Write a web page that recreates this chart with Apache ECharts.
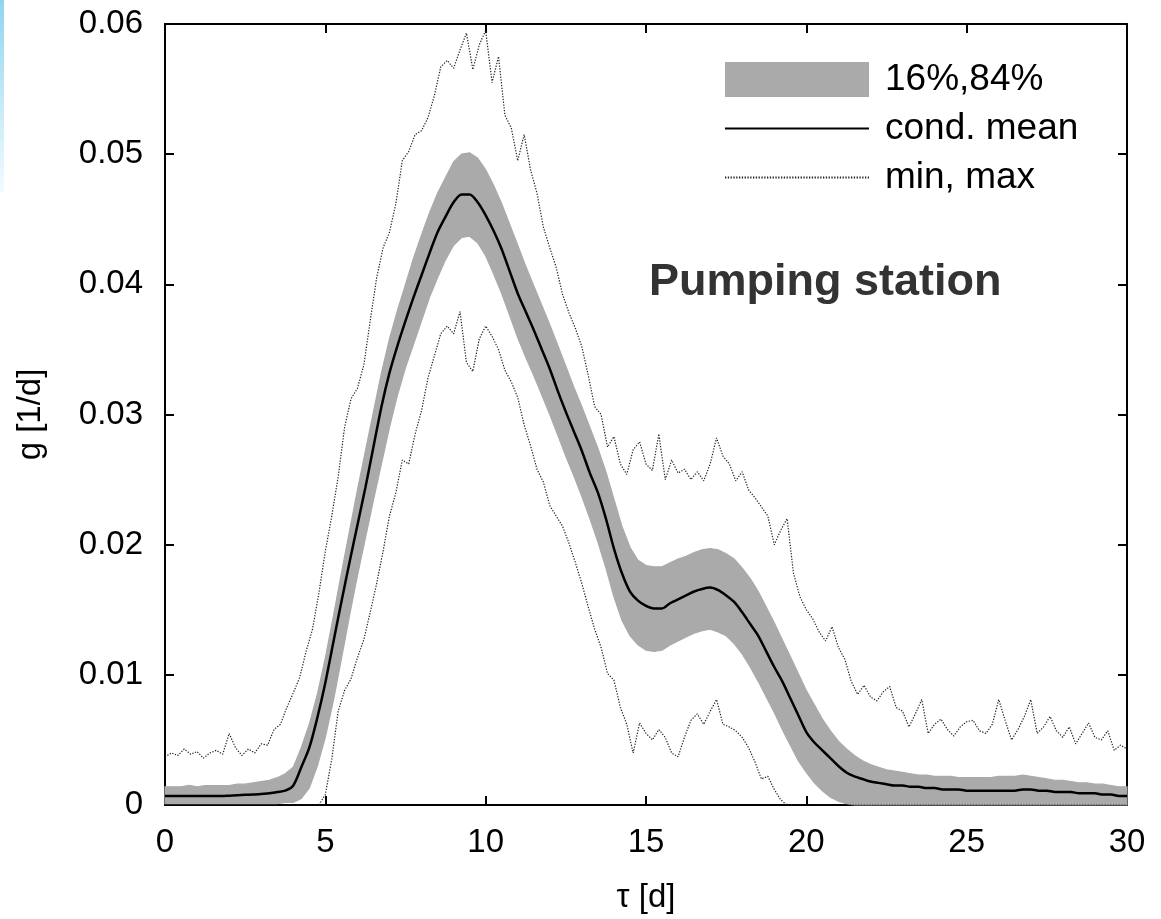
<!DOCTYPE html>
<html>
<head>
<meta charset="utf-8">
<script src="https://cdn.jsdelivr.net/npm/echarts@6/dist/echarts.min.js"></script>
<style>
html,body{margin:0;padding:0;background:#fff;}
#chart{width:1161px;height:919px;}
</style>
</head>
<body>
<div id="chart"></div>
<script>
// ---------------- DATA ----------------
// sampling grids (days)
const bandStep = 0.25;   // mean and 16%/84% band
const extremeStep = 0.2; // min / max envelopes

// conditional mean, t = 0, 0.25, ..., 30
const meanValues = [
  0.0007,0.0007,0.0007,0.0007,
  0.0007,0.0007,0.0007,0.0007,
  0.00072,0.00075,0.00078,0.0008,
  0.00085,0.0009,0.001,0.0011,
  0.0015,0.0029,0.0044,0.0067,
  0.0094,0.0125,0.0156,0.0186,
  0.0215,0.0244,0.0275,0.0306,
  0.0332,0.0353,0.0372,0.0390,
  0.0407,0.0424,0.0440,0.0452,
  0.0463,0.0469,0.0469,0.0463,
  0.0453,0.0441,0.0427,0.0410,
  0.0393,0.0379,0.0365,0.0350,
  0.0335,0.0318,0.0302,0.0287,
  0.0272,0.0255,0.0240,0.0220,
  0.0197,0.0178,0.0164,0.0157,
  0.0153,0.0151,0.0151,0.0155,
  0.0158,0.0161,0.0164,0.0166,
  0.0167,0.0165,0.0161,0.0156,
  0.0148,0.0139,0.0130,0.0118,
  0.0106,0.0095,0.0082,0.0069,
  0.0056,0.0048,0.0042,0.0036,
  0.0030,0.0025,0.0022,0.0020,
  0.0018,0.0017,0.0016,0.0015,
  0.0015,0.0014,0.0014,0.0013,
  0.0013,0.0012,0.0012,0.0012,
  0.0011,0.0011,0.0011,0.0011,
  0.0011,0.0011,0.0011,0.0012,
  0.0012,0.0011,0.0011,0.0010,
  0.0010,0.0010,0.0009,0.0009,
  0.0009,0.0008,0.0008,0.0007,
  0.0007
];

// 84% quantile, t = 0, 0.25, ..., 30
const upperValues = [
  0.0014,0.0014,0.0014,0.0015,
  0.0014,0.0015,0.0015,0.0015,
  0.0015,0.0016,0.0016,0.0017,
  0.0018,0.0019,0.0021,0.0024,
  0.0029,0.0044,0.0062,0.0085,
  0.0113,0.0145,0.0178,0.0210,
  0.0242,0.0272,0.0302,0.0332,
  0.0358,0.0380,0.0400,0.0420,
  0.0438,0.0455,0.0470,0.0482,
  0.0494,0.0500,0.0501,0.0497,
  0.0488,0.0476,0.0462,0.0446,
  0.0430,0.0414,0.0399,0.0384,
  0.0369,0.0353,0.0337,0.0321,
  0.0306,0.0290,0.0274,0.0256,
  0.0235,0.0214,0.0198,0.0188,
  0.0184,0.0183,0.0183,0.0186,
  0.0189,0.0191,0.0194,0.0196,
  0.0197,0.0196,0.0193,0.0189,
  0.0182,0.0174,0.0164,0.0152,
  0.0140,0.0127,0.0114,0.0101,
  0.0088,0.0077,0.0066,0.0057,
  0.0049,0.0043,0.0038,0.0034,
  0.0031,0.0029,0.0027,0.0026,
  0.0025,0.0024,0.0023,0.0023,
  0.0022,0.0022,0.0022,0.0021,
  0.0021,0.0021,0.0021,0.0021,
  0.0022,0.0022,0.0022,0.0023,
  0.0022,0.0021,0.0020,0.0019,
  0.0019,0.0018,0.0017,0.0017,
  0.0016,0.0016,0.0015,0.0014,
  0.0014
];

// 16% quantile, t = 0, 0.25, ..., 30
const lowerValues = [
  0.0001,0.0001,0.0001,0.0001,
  0.0001,0.0001,0.0001,0.0001,
  0.0001,0.0001,0.0001,0.0001,
  0.0001,0.0001,0.0001,0.0002,
  0.0002,0.0005,0.0013,0.0030,
  0.0052,0.0080,0.0112,0.0145,
  0.0176,0.0205,0.0234,0.0262,
  0.0290,0.0315,0.0336,0.0354,
  0.0372,0.0390,0.0405,0.0419,
  0.0430,0.0436,0.0437,0.0432,
  0.0422,0.0408,0.0393,0.0376,
  0.0359,0.0344,0.0330,0.0315,
  0.0300,0.0284,0.0268,0.0253,
  0.0237,0.0220,0.0202,0.0182,
  0.0160,0.0142,0.0130,0.0123,
  0.0119,0.0118,0.0119,0.0123,
  0.0126,0.0129,0.0132,0.0134,
  0.0135,0.0133,0.0130,0.0124,
  0.0116,0.0106,0.0095,0.0083,
  0.0071,0.0058,0.0046,0.0034,
  0.0025,0.0017,0.0011,0.0006,
  0.0003,0.0001,0,0,
  0,0,0,0,
  0,0,0,0,
  0,0,0,0,
  0,0,0,0,
  0,0,0,0,
  0,0,0,0,
  0,0,0,0,
  0,0,0,0,
  0
];

// maximum, t = 0, 0.2, ..., 30
const maxValues = [
  0.0037,0.0040,0.0038,0.0043,0.0039,0.0041,0.0036,0.0040,0.0042,0.0039,
  0.0055,0.0044,0.0038,0.0043,0.0040,0.0047,0.0046,0.0058,0.0062,0.0075,
  0.0086,0.0098,0.0118,0.0135,0.0163,0.0195,0.0222,0.0252,0.0290,0.0312,
  0.0320,0.0338,0.0372,0.0405,0.0428,0.0440,0.0462,0.0495,0.0502,0.0515,
  0.0518,0.0528,0.0545,0.0567,0.0572,0.0566,0.0580,0.0593,0.0565,0.0584,
  0.0595,0.0555,0.0575,0.0530,0.0520,0.0495,0.0515,0.0488,0.0470,0.0444,
  0.0428,0.0413,0.0392,0.0378,0.0366,0.0352,0.0330,0.0306,0.0300,0.0275,
  0.0283,0.0262,0.0254,0.0273,0.0279,0.0262,0.0257,0.0285,0.0250,0.0265,
  0.0255,0.0258,0.0250,0.0256,0.0249,0.0262,0.0282,0.0268,0.0262,0.0249,
  0.0256,0.0242,0.0236,0.0229,0.0222,0.0200,0.0211,0.0220,0.0178,0.0160,
  0.0150,0.0143,0.0133,0.0126,0.0137,0.0121,0.0112,0.0095,0.0085,0.0092,
  0.0083,0.0080,0.0087,0.0091,0.0075,0.0072,0.0060,0.0070,0.0081,0.0055,
  0.0062,0.0066,0.0058,0.0053,0.0060,0.0064,0.0065,0.0057,0.0055,0.0062,
  0.0081,0.0065,0.0050,0.0058,0.0068,0.0081,0.0055,0.0060,0.0068,0.0057,
  0.0052,0.0060,0.0047,0.0055,0.0063,0.0052,0.0050,0.0057,0.0042,0.0046,
  0.0043
];

// minimum, t = 0, 0.2, ..., 30
const minValues = [
  0,0,0,0,0,0,0,0,0,0,
  0,0,0,0,0,0,0,0,0,0,
  0,0,0,0,0,0.0008,0.0035,0.0072,0.0088,0.0097,
  0.0113,0.0127,0.0148,0.0170,0.0195,0.0222,0.0240,0.0265,0.0262,0.0285,
  0.0303,0.0328,0.0345,0.0362,0.0368,0.0362,0.0379,0.0340,0.0333,0.0358,
  0.0368,0.0360,0.0350,0.0334,0.0325,0.0313,0.0292,0.0276,0.0258,0.0248,
  0.0230,0.0222,0.0214,0.0201,0.0186,0.0170,0.0152,0.0135,0.0121,0.0101,
  0.0096,0.0075,0.0062,0.0040,0.0063,0.0055,0.0050,0.0058,0.0052,0.0040,
  0.0037,0.0052,0.0065,0.0070,0.0062,0.0072,0.0081,0.0062,0.0060,0.0057,
  0.0052,0.0044,0.0033,0.0020,0.0022,0.0012,0.0004,0,0,0,
  0,0,0,0,0,0,0,0,0,0,
  0,0,0,0,0,0,0,0,0,0,
  0,0,0,0,0,0,0,0,0,0,
  0,0,0,0,0,0,0,0,0,0,
  0,0,0,0,0,0,0,0,0,0,
  0
];

const xTicks = {min: 0, max: 30, interval: 5};
const yTicks = {min: 0, max: 0.06, interval: 0.01};
const legendNames = ['16%,84%', 'cond. mean', 'min, max'];
const xName = 'τ [d]';
const yName = 'g [1/d]';
const annotation = 'Pumping station';

// ---------------- BUILD ----------------
const tAt = (i, step) => Math.round(i * step * 1000) / 1000;
const pairs = (vals, step) => vals.map((v, i) => [tAt(i, step), v]);
const bandRows = upperValues.map((u, i) => [tAt(i, bandStep), lowerValues[i], u]);

const FONT = "'Liberation Sans', Arial, Helvetica, sans-serif";
const BAND_COLOR = '#aaaaaa';
const chart = echarts.init(document.getElementById('chart'), null, {renderer: 'canvas'});

const frameAxis = {
  axisLine: {show: true, onZero: false, lineStyle: {color: '#000', width: 2}},
  axisTick: {show: true, inside: true, length: 9, lineStyle: {color: '#000', width: 2}},
  splitLine: {show: false}
};

function renderBand(params, api) {
  if (params.dataIndex !== 0) return null;
  const pts = [];
  for (let i = 0; i < bandRows.length; i++) pts.push(api.coord([bandRows[i][0], bandRows[i][2]]));
  for (let i = bandRows.length - 1; i >= 0; i--) pts.push(api.coord([bandRows[i][0], bandRows[i][1]]));
  return {
    type: 'polygon',
    shape: {points: pts},
    style: {fill: BAND_COLOR, stroke: BAND_COLOR, lineWidth: 1.2}
  };
}

chart.setOption({
  animation: false,
  backgroundColor: '#fff',
  textStyle: {fontFamily: FONT},
  title: {
    text: annotation, left: 644, top: 255,
    textStyle: {fontFamily: FONT, fontSize: 45, fontWeight: 'bold', color: '#333'}
  },
  legend: {
    orient: 'vertical', left: 724, top: 61, padding: 0,
    itemWidth: 144, itemHeight: 35, itemGap: 12,
    selectedMode: false,
    textStyle: {fontFamily: FONT, fontSize: 37, lineHeight: 35, color: '#000', padding: [0, 0, 0, 11]},
    data: [
      {name: legendNames[0], icon: 'rect', itemStyle: {color: BAND_COLOR, opacity: 1}},
      {name: legendNames[1], itemStyle: {opacity: 0}},
      {name: legendNames[2], itemStyle: {opacity: 0}}
    ]
  },
  grid: {left: 165, right: 34, top: 24, bottom: 114, containLabel: false},
  xAxis: [
    Object.assign({
      type: 'value', position: 'bottom', min: xTicks.min, max: xTicks.max, interval: xTicks.interval,
      name: xName, nameLocation: 'middle', nameGap: 76,
      nameTextStyle: {fontFamily: FONT, fontSize: 33, color: '#000'},
      axisLabel: {fontFamily: FONT, fontSize: 33, color: '#000', margin: 21}
    }, frameAxis),
    Object.assign({
      type: 'value', position: 'top', min: xTicks.min, max: xTicks.max, interval: xTicks.interval,
      axisLabel: {show: false}
    }, frameAxis)
  ],
  yAxis: [
    Object.assign({
      type: 'value', position: 'left', min: yTicks.min, max: yTicks.max, interval: yTicks.interval,
      name: yName, nameLocation: 'middle', nameGap: 118, nameRotate: 90,
      nameTextStyle: {fontFamily: FONT, fontSize: 33, color: '#000'},
      axisLabel: {fontFamily: FONT, fontSize: 33, color: '#000', margin: 22}
    }, frameAxis),
    Object.assign({
      type: 'value', position: 'right', min: yTicks.min, max: yTicks.max, interval: yTicks.interval,
      axisLabel: {show: false}
    }, frameAxis)
  ],
  graphic: [{
    type: 'rect', left: 0, top: 0, z: -1,
    shape: {width: 4, height: 192},
    style: {fill: new echarts.graphic.LinearGradient(0, 0, 0, 1, [
      {offset: 0, color: '#8fd5f0'}, {offset: 1, color: '#f2fbfe'}
    ])}
  }],
  series: [
    {
      name: legendNames[0], type: 'custom', data: bandRows,
      encode: {x: 0, y: [1, 2]},
      renderItem: renderBand,
      itemStyle: {color: BAND_COLOR},
      silent: true, z: 1
    },
    {
      name: legendNames[2], type: 'line', data: pairs(maxValues, extremeStep),
      symbol: 'none', color: '#222',
      lineStyle: {color: '#222', width: 1.2, type: [1.3, 1.5]}, z: 2
    },
    {
      name: legendNames[2], type: 'line', data: pairs(minValues, extremeStep),
      symbol: 'none', color: '#222',
      lineStyle: {color: '#222', width: 1.2, type: [1.3, 1.5]}, z: 2
    },
    {
      name: legendNames[1], type: 'line', data: pairs(meanValues, bandStep),
      symbol: 'none', color: '#000', smooth: 0.3,
      lineStyle: {color: '#000', width: 2.5}, z: 3
    }
  ]
});
</script>
</body>
</html>
